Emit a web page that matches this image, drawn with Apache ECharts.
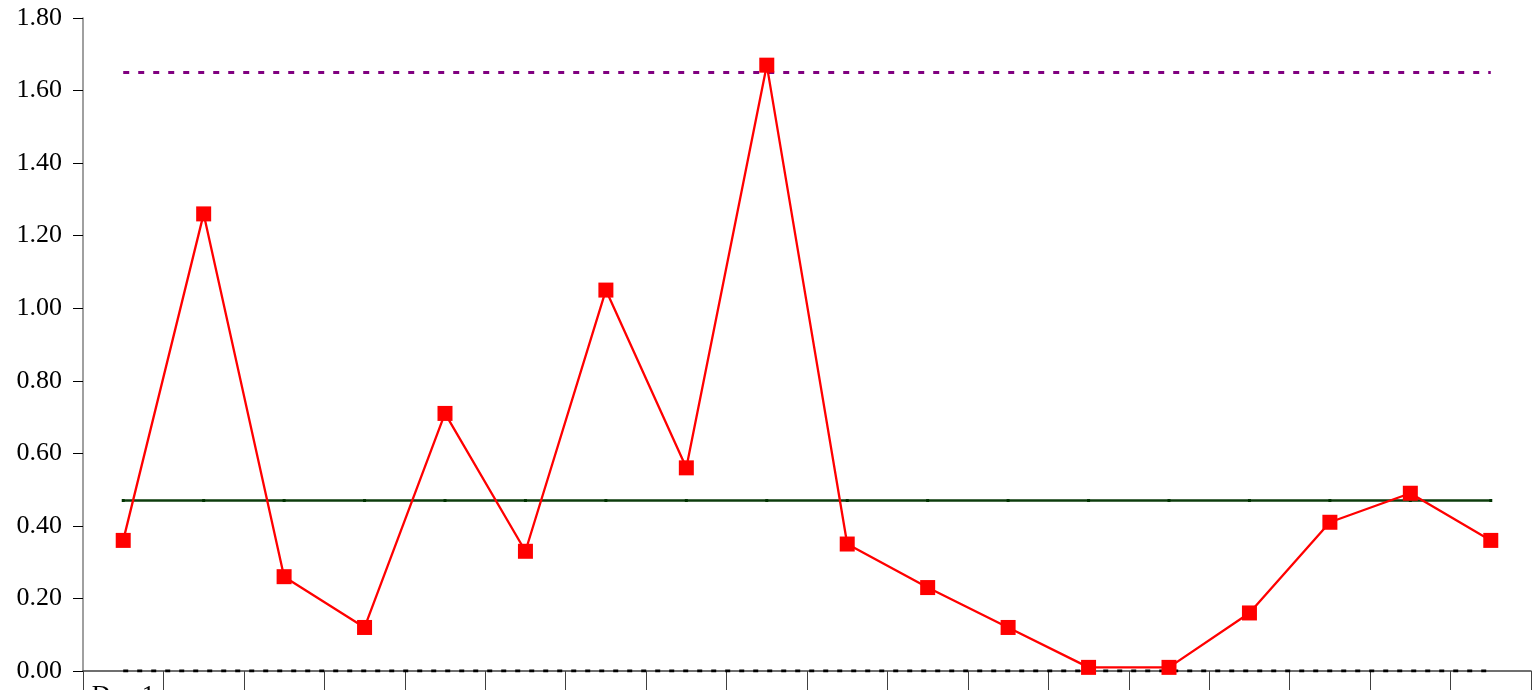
<!DOCTYPE html>
<html>
<head>
<meta charset="utf-8">
<script src="https://cdn.jsdelivr.net/npm/echarts@6/dist/echarts.min.js"></script>
<style>html,body{margin:0;padding:0;background:#fff}#c{width:1539px;height:690px}</style>
</head>
<body>
<div id="c"></div>
<script>
const categories = ["Day 1","Day 2","Day 3","Day 4","Day 5","Day 6","Day 7","Day 8","Day 9","Day 10","Day 11","Day 12","Day 13","Day 14","Day 15","Day 16","Day 17","Day 18"];
const values = [0.36,1.26,0.26,0.12,0.71,0.33,1.05,0.56,1.67,0.35,0.23,0.12,0.01,0.01,0.16,0.41,0.49,0.36];
const ucl = [1.65,1.65,1.65,1.65,1.65,1.65,1.65,1.65,1.65,1.65,1.65,1.65,1.65,1.65,1.65,1.65,1.65,1.65];
const cl = [0.47,0.47,0.47,0.47,0.47,0.47,0.47,0.47,0.47,0.47,0.47,0.47,0.47,0.47,0.47,0.47,0.47,0.47];
const lcl = [0,0,0,0,0,0,0,0,0,0,0,0,0,0,0,0,0,0];
const yTicks = {min:0, max:1.8, interval:0.2};

const chart = echarts.init(document.getElementById('c'), null, {renderer:'canvas'});
chart.setOption({
  animation:false,
  backgroundColor:'#fff',
  grid:{left:83, right:8, top:18, bottom:19, containLabel:false, outerBoundsMode:'none'},
  xAxis:{
    type:'category', data:categories, boundaryGap:true,
    axisLine:{lineStyle:{color:'#404040', width:1.5}},
    axisTick:{show:true, interval:0, length:22, lineStyle:{color:'#404040', width:1}},
    axisLabel:{interval:function(i){return i===0;}, margin:12, fontFamily:'Liberation Serif', fontSize:26, color:'#000'},
    splitLine:{show:false}
  },
  yAxis:{
    type:'value', min:yTicks.min, max:yTicks.max, interval:yTicks.interval,
    axisLine:{show:true, lineStyle:{color:'#808080', width:1.5}},
    axisTick:{show:true, length:10, lineStyle:{color:'#000', width:1}},
    axisLabel:{formatter:function(v){return v.toFixed(2);}, margin:21, fontFamily:'Liberation Serif', fontSize:26, color:'#000'},
    splitLine:{show:false}
  },
  series:[
    {type:'line', data:ucl, symbol:'none', lineStyle:{color:'#800080', width:3, type:[6,9]}, z:1},
    {type:'line', data:lcl, symbol:'none', lineStyle:{color:'#000', width:3, type:[5,9]}, z:3},
    {type:'line', data:cl, symbol:'rect', symbolSize:3, itemStyle:{color:'#003300'}, lineStyle:{color:'#0d3d0d', width:2.5}, z:2},
    {type:'line', data:values, symbol:'rect', symbolSize:15, itemStyle:{color:'#ff0000'}, lineStyle:{color:'#ff0000', width:2.3}, z:4}
  ]
});
</script>
</body>
</html>
